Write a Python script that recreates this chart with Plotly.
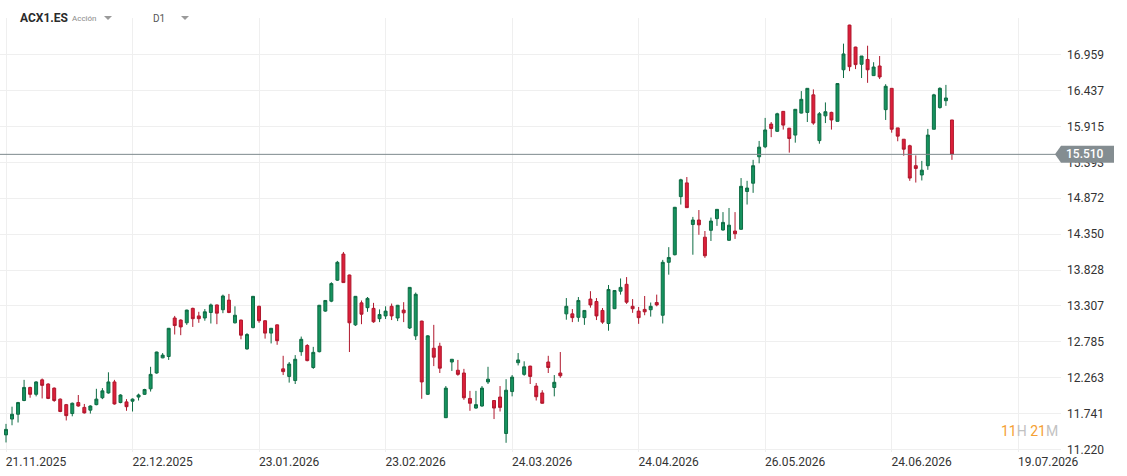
import pandas as pd
import plotly.graph_objects as go

# ---------------- data ----------------
SYMBOL = "ACX1.ES"
ASSET_TYPE = "Acción"
TIMEFRAME = "D1"
COUNTDOWN = ("11", "H", "21", "M")

FIRST_DAY = "2025-11-21"
LAST_DAY = "2026-07-08"
HOLIDAYS = ["2025-12-25", "2025-12-26", "2026-01-01", "2026-04-03", "2026-04-06", "2026-05-01"]

opens = [
    11.43, 11.66, 11.73, 11.93, 12.12, 12.02, 12.23, 12.17, 12.11, 11.95,
    11.87, 11.74, 11.90, 11.83, 11.79, 11.87, 11.97, 12.04, 12.20, 11.90,
    11.91, 11.92, 11.98, 12.02, 12.10, 12.33, 12.55, 12.57, 13.13, 13.10,
    13.06, 13.27, 13.16, 13.13, 13.21, 13.32, 13.25, 13.39, 13.06, 13.10,
    12.68, 12.99, 13.30, 13.09, 12.91, 13.03, 12.39, 12.28, 12.22, 12.64,
    12.73, 12.41, 12.64, 13.23, 13.375, 13.68, 14.06, 13.755, 13.03, 13.35,
    13.28, 13.27, 13.12, 13.16, 13.30, 13.13, 13.245, 12.985, 12.87, 13.085,
    12.02, 12.69, 12.72, 11.68, 12.49, 12.37, 12.33, 11.96, 11.82, 11.85,
    12.20, 11.93, 11.98, 11.45, 12.06, 12.48, 12.31, 12.43, 12.14, 12.04,
    12.49, 12.12, 12.33, 13.19, 13.19, 13.14, 13.135, 13.405, 13.37, 13.24,
    13.05, 13.265, 13.52, 13.62, 13.30, 13.23, 13.255, 13.25, 13.355, 13.17,
    13.94, 14.05, 14.895, 15.095, 14.49, 14.555, 14.305, 14.405, 14.575, 14.41,
    14.26, 14.395, 14.42, 14.97, 15.09, 15.475, 15.62, 15.95, 15.845, 16.135,
    15.89, 15.79, 16.11, 16.12, 16.375, 15.71, 16.07, 16.12, 15.99, 16.74,
    17.39, 17.07, 16.82, 16.89, 16.655, 16.795, 16.16, 16.47, 15.895, 15.73,
    15.635, 15.345, 15.21, 15.345, 15.875, 16.19, 16.29, 16.01,
]
highs = [
    11.59, 11.84, 11.91, 12.23, 12.13, 12.21, 12.25, 12.18, 12.12, 11.96,
    11.88, 11.90, 12.01, 11.88, 11.86, 12.10, 12.11, 12.34, 12.23, 12.02,
    11.95, 11.96, 12.03, 12.10, 12.42, 12.64, 12.62, 12.985, 13.16, 13.11,
    13.25, 13.28, 13.22, 13.26, 13.34, 13.325, 13.47, 13.48, 13.30, 13.105,
    12.91, 13.45, 13.31, 13.095, 12.985, 13.035, 12.58, 12.49, 12.59, 12.86,
    12.75, 12.71, 13.32, 13.39, 13.65, 13.96, 14.09, 13.76, 13.45, 13.385,
    13.435, 13.35, 13.255, 13.30, 13.34, 13.32, 13.36, 13.58, 13.50, 13.09,
    12.88, 13.03, 12.77, 12.14, 12.53, 12.52, 12.39, 12.07, 12.07, 12.14,
    12.42, 11.935, 12.14, 12.24, 12.30, 12.62, 12.50, 12.435, 12.185, 12.08,
    12.58, 12.30, 12.635, 13.42, 13.26, 13.435, 13.24, 13.52, 13.42, 13.275,
    13.61, 13.53, 13.705, 13.725, 13.405, 13.29, 13.45, 13.355, 13.47, 13.975,
    14.16, 14.745, 15.155, 15.18, 14.60, 14.70, 14.395, 14.59, 14.71, 14.67,
    14.73, 14.67, 15.165, 15.125, 15.43, 15.705, 16.04, 15.98, 16.115, 16.14,
    15.895, 16.165, 16.43, 16.47, 16.455, 16.125, 16.265, 16.13, 16.54, 17.12,
    17.395, 17.075, 16.94, 17.09, 16.85, 16.94, 16.53, 16.47, 15.895, 15.73,
    15.65, 15.495, 15.415, 15.88, 16.39, 16.485, 16.52, 16.01,
]
lows = [
    11.32, 11.57, 11.61, 11.92, 11.97, 11.99, 11.96, 11.95, 11.91, 11.76,
    11.64, 11.70, 11.84, 11.74, 11.74, 11.86, 11.95, 12.03, 11.87, 11.89,
    11.78, 11.77, 11.93, 12.01, 12.06, 12.32, 12.545, 12.52, 12.89, 12.88,
    13.03, 13.00, 13.06, 13.09, 13.05, 13.04, 13.20, 13.20, 13.05, 12.82,
    12.67, 12.98, 13.06, 12.83, 12.76, 12.74, 12.30, 12.19, 12.17, 12.58,
    12.50, 12.39, 12.63, 13.22, 13.36, 13.67, 13.64, 12.635, 13.015, 13.04,
    13.22, 13.06, 13.07, 13.115, 13.10, 13.085, 13.07, 12.97, 12.81, 11.955,
    12.01, 12.43, 12.33, 11.675, 12.36, 12.29, 11.94, 11.78, 11.81, 11.84,
    12.17, 11.66, 11.77, 11.315, 11.99, 12.44, 12.29, 12.17, 11.93, 11.885,
    12.33, 11.99, 12.26, 13.105, 13.07, 13.075, 13.03, 13.28, 13.10, 13.045,
    12.945, 13.26, 13.47, 13.335, 13.205, 13.045, 13.17, 13.15, 13.30, 13.05,
    13.76, 14.04, 14.78, 14.735, 14.05, 14.34, 14.005, 14.25, 14.47, 14.40,
    14.25, 14.28, 14.415, 14.78, 14.95, 15.38, 15.60, 15.76, 15.835, 15.87,
    15.535, 15.68, 16.105, 15.98, 15.94, 15.665, 15.965, 15.87, 15.99, 16.62,
    16.72, 16.75, 16.62, 16.55, 16.65, 16.605, 16.01, 15.825, 15.70, 15.49,
    15.125, 15.10, 15.13, 15.285, 15.875, 16.175, 16.215, 15.43,
]
closes = [
    11.51, 11.73, 11.90, 12.12, 12.02, 12.20, 12.15, 11.96, 11.93, 11.77,
    11.71, 11.89, 11.85, 11.75, 11.85, 11.95, 12.07, 12.20, 11.88, 12.01,
    11.84, 11.95, 12.01, 12.09, 12.31, 12.635, 12.59, 12.98, 13.02, 13.00,
    13.245, 13.12, 13.12, 13.22, 13.32, 13.20, 13.45, 13.21, 13.17, 12.88,
    12.89, 13.445, 13.09, 12.91, 12.98, 12.80, 12.35, 12.46, 12.53, 12.82,
    12.51, 12.63, 13.315, 13.385, 13.63, 13.94, 13.645, 13.06, 13.445, 13.185,
    13.415, 13.075, 13.18, 13.23, 13.16, 13.315, 13.205, 13.575, 13.475, 12.20,
    12.87, 12.56, 12.40, 12.11, 12.53, 12.31, 11.97, 11.89, 11.87, 12.11,
    12.24, 11.82, 11.83, 12.08, 12.27, 12.52, 12.42, 12.28, 11.985, 11.89,
    12.41, 12.195, 12.29, 13.30, 13.135, 13.385, 13.24, 13.32, 13.16, 13.07,
    13.545, 13.53, 13.575, 13.36, 13.265, 13.135, 13.22, 13.30, 13.32, 13.94,
    14.01, 14.74, 15.14, 14.735, 14.555, 14.485, 14.035, 14.54, 14.71, 14.52,
    14.48, 14.355, 15.045, 15.02, 15.345, 15.615, 15.865, 15.885, 16.10, 15.935,
    15.74, 16.165, 16.31, 16.47, 15.965, 16.10, 16.13, 16.01, 16.54, 16.97,
    16.785, 16.815, 16.94, 16.74, 16.78, 16.635, 16.50, 15.875, 15.775, 15.585,
    15.165, 15.305, 15.28, 15.79, 16.375, 16.47, 16.33, 15.51,
]

X_TICK_LABELS = ["21.11.2025", "22.12.2025", "23.01.2026", "23.02.2026",
                 "24.03.2026", "24.04.2026", "26.05.2026", "24.06.2026"]
FUTURE_TICK_LABEL = "19.07.2026"
FUTURE_TICK_SLOT = 168          # bar slot of the projected (future) date label
Y_TICK_LABELS = ["11.220", "11.741", "12.263", "12.785", "13.307", "13.828",
                 "14.350", "14.872", "15.393", "15.915", "16.437", "16.959"]

# ---------------- build ----------------
days = pd.bdate_range(FIRST_DAY, LAST_DAY, freq="C", holidays=HOLIDAYS)
dates = [d.strftime("%d.%m.%Y") for d in days]
n = min(len(dates), len(opens), len(highs), len(lows), len(closes))
dates = dates[:n]

W, H = 1127, 476
M_L, M_R, M_T, M_B = 0, 66, 18, 24
PLOT_W = W - M_L - M_R


def px(x):
    return (x - M_L) / PLOT_W


GREEN_FILL, GREEN_LINE = "#16935f", "#0e6c44"
RED_FILL, RED_LINE = "#dc1f3a", "#b0182d"
GRID = "#efefef"
TEXT = "#333333"
PRICE_GREY = "#848d91"

fig = go.Figure(
    go.Candlestick(
        x=dates,
        open=opens[:n], high=highs[:n], low=lows[:n], close=closes[:n],
        increasing=dict(fillcolor=GREEN_FILL, line=dict(color=GREEN_LINE, width=1)),
        decreasing=dict(fillcolor=RED_FILL, line=dict(color=RED_LINE, width=1)),
        whiskerwidth=0,
        hoverinfo="skip",
        showlegend=False,
    )
)

tickvals = [dates.index(t) for t in X_TICK_LABELS if t in dates]
ticktext = [t for t in X_TICK_LABELS if t in dates]
tickvals.append(FUTURE_TICK_SLOT)
ticktext.append(FUTURE_TICK_LABEL)

last_close = closes[n - 1]

fig.update_layout(
    width=W, height=H,
    margin=dict(l=M_L, r=M_R, t=M_T, b=M_B, pad=0),
    paper_bgcolor="white", plot_bgcolor="white",
    font=dict(family="Roboto, Arial, sans-serif", size=12, color=TEXT),
    showlegend=False,
    xaxis=dict(
        type="category", categoryorder="array", categoryarray=dates,
        range=[-0.996, 175.1],
        rangeslider=dict(visible=False),
        showgrid=True, gridcolor=GRID, gridwidth=1,
        zeroline=False, showline=False, ticks="",
        tickmode="array", tickvals=tickvals, ticktext=ticktext,
        tickfont=dict(size=12, color=TEXT),
        ticklabelshift=30, ticklabelstandoff=1,
        fixedrange=True,
    ),
    yaxis=dict(
        side="right",
        range=[11.181, 17.493],
        showgrid=True, gridcolor=GRID, gridwidth=1,
        zeroline=False, showline=False, ticks="",
        tickmode="array", tickvals=[float(t) for t in Y_TICK_LABELS], ticktext=Y_TICK_LABELS,
        tickfont=dict(size=12, color=TEXT),
        ticklabelstandoff=5,
        fixedrange=True,
    ),
    shapes=[
        dict(type="line", xref="paper", yref="y", x0=0, x1=1, y0=last_close, y1=last_close,
             line=dict(color="#7e898d", width=1), layer="above"),
        dict(type="path", xref="paper", yref="y",
             xsizemode="pixel", ysizemode="pixel", xanchor=1, yanchor=last_close,
             path="M -6,0 L 0,8.5 L 53,8.5 L 53,-8.5 L 0,-8.5 Z",
             fillcolor=PRICE_GREY, line=dict(width=0), layer="above"),
        # header dropdown carets
        dict(type="path", xref="paper", yref="paper",
             xsizemode="pixel", ysizemode="pixel", xanchor=px(108), yanchor=1,
             path="M -4,2 L 4,2 L 0,-2 Z", fillcolor="#9a9a9a", line=dict(width=0)),
        dict(type="path", xref="paper", yref="paper",
             xsizemode="pixel", ysizemode="pixel", xanchor=px(185), yanchor=1,
             path="M -4,2 L 4,2 L 0,-2 Z", fillcolor="#9a9a9a", line=dict(width=0)),
    ],
    annotations=[
        dict(xref="paper", yref="paper", x=px(18), y=1, xanchor="left", yanchor="middle",
             text="<b>%s</b>" % SYMBOL, showarrow=False,
             font=dict(size=12, color="#2b2b2b")),
        dict(xref="paper", yref="paper", x=px(70), y=1, xanchor="left", yanchor="middle",
             text=ASSET_TYPE, showarrow=False, font=dict(size=8, color="#8a8a8a")),
        dict(xref="paper", yref="paper", x=px(151), y=1, xanchor="left", yanchor="middle",
             text=TIMEFRAME, showarrow=False, font=dict(size=10, color="#555555")),
        dict(xref="paper", yref="paper", x=px(1060), y=(H - M_B - 431) / (H - M_T - M_B),
             xanchor="right", yanchor="middle", showarrow=False,
             text=('<span style="color:#F5A033">%s</span><span style="color:#c2c2c2">%s</span> '
                   '<span style="color:#F5A033">%s</span><span style="color:#c2c2c2">%s</span>')
             % COUNTDOWN,
             font=dict(size=14)),
        dict(xref="paper", yref="y", x=1, y=last_close, xanchor="left", yanchor="middle",
             xshift=3, text="%.3f" % last_close, showarrow=False,
             font=dict(size=12, color="white", weight=500)),
    ],
)

fig.write_html("out.html")
